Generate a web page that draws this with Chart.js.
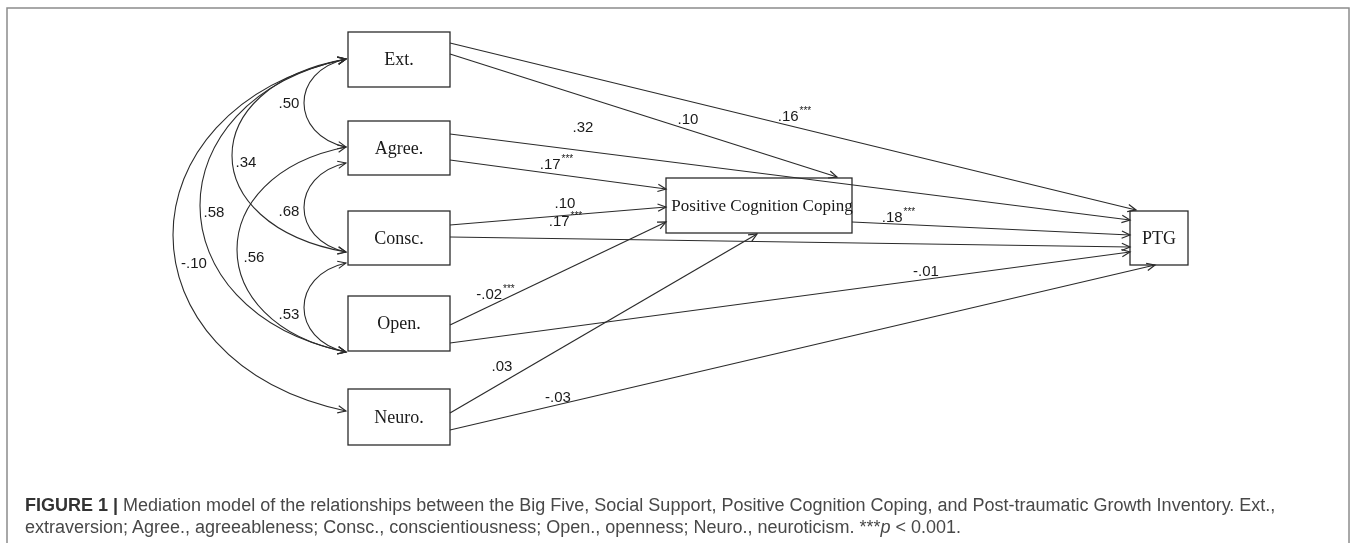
<!DOCTYPE html>
<html>
<head>
<meta charset="utf-8">
<script src="https://cdn.jsdelivr.net/npm/chart.js@4.4.1/dist/chart.umd.min.js"></script>
<style>
  body { margin: 0; background: #fff; }
  #wrap { position: relative; width: 1357px; height: 543px; overflow: hidden; }
  canvas { display: block; }
  #caption {
    position: absolute; left: 25px; top: 494px;
    font: 18px 'Liberation Sans', Arial, sans-serif; line-height: 22px;
    color: #484848; white-space: nowrap;
  }
  #caption b { color: #333; }
</style>
</head>
<body>
<div id="wrap">
  <canvas id="pathChart" width="1357" height="543"></canvas>
  <div id="caption"><b>FIGURE 1 |</b> Mediation model of the relationships between the Big Five, Social Support, Positive Cognition Coping, and Post-traumatic Growth Inventory. Ext.,<br>extraversion; Agree., agreeableness; Consc., conscientiousness; Open., openness; Neuro., neuroticism. ***<i>p</i> &lt; 0.001.</div>
</div>
<script>
// variables of the model
const nodeNames = ['Ext.', 'Agree.', 'Consc.', 'Open.', 'Neuro.', 'Positive Cognition Coping', 'PTG'];

// direct paths (index into nodeNames) and their standardized coefficients
const pathFrom = [0, 0, 1, 1, 2, 2, 3, 3, 4, 4, 5];
const pathTo   = [6, 5, 6, 5, 5, 6, 5, 6, 5, 6, 6];
const pathCoef = ['.16', '.10', '.32', '.17', '.10', '.17', '-.02', '-.01', '.03', '-.03', '.18'];
const pathSig  = ['***', '', '', '***', '', '***', '***', '', '', '', '***'];

// correlations between the Big Five traits
const corrA = [0, 1, 2, 0, 1, 0, 0];
const corrB = [1, 2, 3, 2, 3, 3, 4];
const corrR = ['.50', '.68', '.53', '.34', '.56', '.58', '-.10'];

// ---- layout of the figure (in figure units, mapped by the x / y scales) ----
const boxLeft   = [348, 348, 348, 348, 348, 666, 1130];
const boxTop    = [32, 121, 211, 296, 389, 178, 211];
const boxRight  = [450, 450, 450, 450, 450, 852, 1188];
const boxBottom = [87, 175, 265, 351, 445, 233, 265];

const pathStartY = [43, 54, 134, 160, 225, 237, 325, 343, 413, 430, 222];
const pathEnd = [[1136, 210], [837, 177], [1130, 220], [666, 189], [666, 207], [1130, 247],
                 [666, 222], [1130, 252], [757, 234], [1155, 265], [1130, 235]];
const pathLabelAt = [[794, 117], [688, 120], [583, 128], [556, 165], [565, 204], [565, 222],
                     [495, 295], [926, 272], [502, 367], [558, 398], [898, 218]];

const corrYA = [59, 163, 263, 59, 147, 59, 59];
const corrYB = [147, 252, 352, 252, 352, 352, 411];
const corrLeftMost = [304, 304, 304, 232, 237, 200, 173];
const corrLabelAt = [[289, 104], [289, 212], [289, 315], [246, 163], [254, 258], [214, 213], [194, 264]];

const INK = '#2b2b2b';

// one line dataset per path
const datasets = pathFrom.map((f, i) => ({
  label: nodeNames[f] + ' -> ' + nodeNames[pathTo[i]],
  data: [{ x: boxRight[f], y: pathStartY[i] }, { x: pathEnd[i][0], y: pathEnd[i][1] }],
  showLine: true,
  borderColor: INK,
  borderWidth: 1.2,
  pointRadius: 0,
  fill: false
}));

function arrowHead(ctx, tx, ty, angle) {
  const len = 9, spread = 0.42;
  ctx.beginPath();
  ctx.moveTo(tx - len * Math.cos(angle - spread), ty - len * Math.sin(angle - spread));
  ctx.lineTo(tx, ty);
  ctx.lineTo(tx - len * Math.cos(angle + spread), ty - len * Math.sin(angle + spread));
  ctx.stroke();
}

function coefLabel(ctx, text, sig, px, py) {
  const big = "15px 'Liberation Sans Narrow', 'Liberation Sans', sans-serif";
  const small = "10px 'Liberation Sans', sans-serif";
  ctx.font = big;
  const w = ctx.measureText(text).width;
  ctx.font = small;
  const ws = sig ? ctx.measureText(sig).width : 0;
  const x0 = px - (w + ws) / 2;
  ctx.textAlign = 'left';
  ctx.textBaseline = 'middle';
  ctx.font = big;
  ctx.fillText(text, x0, py);
  if (sig) {
    ctx.font = small;
    ctx.fillText(sig, x0 + w + 1, py - 6);
  }
}

const diagramPlugin = {
  id: 'pathDiagram',
  beforeDatasetsDraw(chart) {
    const { ctx, scales: { x, y } } = chart;
    ctx.save();
    // figure frame
    ctx.strokeStyle = '#8c8c8c';
    ctx.lineWidth = 1.5;
    ctx.strokeRect(x.getPixelForValue(7), y.getPixelForValue(8),
      x.getPixelForValue(1349) - x.getPixelForValue(7), 600);

    // boxes and their names
    ctx.strokeStyle = INK;
    ctx.lineWidth = 1.3;
    ctx.fillStyle = '#1a1a1a';
    ctx.textAlign = 'center';
    ctx.textBaseline = 'middle';
    nodeNames.forEach((name, i) => {
      const l = x.getPixelForValue(boxLeft[i]), r = x.getPixelForValue(boxRight[i]);
      const t = y.getPixelForValue(boxTop[i]), b = y.getPixelForValue(boxBottom[i]);
      ctx.strokeRect(l, t, r - l, b - t);
      ctx.font = (i === 5 ? '17px' : '18px') + " 'Liberation Serif', 'Times New Roman', serif";
      ctx.fillText(name, (l + r) / 2 + (i === 5 ? 3 : 0), (t + b) / 2 + 1);
    });

    // two-headed correlation curves on the left
    ctx.lineWidth = 1.1;
    corrA.forEach((a, i) => {
      const x0 = x.getPixelForValue(boxLeft[a] - 2);
      const ya = y.getPixelForValue(corrYA[i]);
      const yb = y.getPixelForValue(corrYB[i]);
      const xl = x.getPixelForValue(corrLeftMost[i]);
      const cx = (8 * xl - 2 * x0) / 6;
      const e = (yb - ya) * 0.14;
      ctx.beginPath();
      ctx.moveTo(x0, ya);
      ctx.bezierCurveTo(cx, ya + e, cx, yb - e, x0, yb);
      ctx.stroke();
      arrowHead(ctx, x0, ya, Math.atan2(ya - (ya + e), x0 - cx));
      arrowHead(ctx, x0, yb, Math.atan2(yb - (yb - e), x0 - cx));
      const [lx, ly] = corrLabelAt[i];
      ctx.fillStyle = '#1a1a1a';
      coefLabel(ctx, corrR[i], '', x.getPixelForValue(lx), y.getPixelForValue(ly));
    });
    ctx.restore();
  },
  afterDatasetsDraw(chart) {
    const { ctx, scales: { x, y } } = chart;
    ctx.save();
    ctx.strokeStyle = INK;
    ctx.fillStyle = '#1a1a1a';
    ctx.lineWidth = 1.2;
    chart.data.datasets.forEach((ds, i) => {
      const pts = chart.getDatasetMeta(i).data;
      const p0 = pts[0], p1 = pts[1];
      arrowHead(ctx, p1.x, p1.y, Math.atan2(p1.y - p0.y, p1.x - p0.x));
      const [lx, ly] = pathLabelAt[i];
      coefLabel(ctx, pathCoef[i], pathSig[i], x.getPixelForValue(lx), y.getPixelForValue(ly));
    });
    ctx.restore();
  }
};

new Chart(document.getElementById('pathChart').getContext('2d'), {
  type: 'scatter',
  data: { datasets },
  options: {
    responsive: false,
    animation: false,
    devicePixelRatio: 1,
    layout: { padding: 0 },
    plugins: { legend: { display: false }, tooltip: { enabled: false } },
    scales: {
      x: { type: 'linear', display: false, min: 0, max: 1357 },
      y: { type: 'linear', display: false, min: 0, max: 543, reverse: true }
    }
  },
  plugins: [diagramPlugin]
});
</script>
</body>
</html>
